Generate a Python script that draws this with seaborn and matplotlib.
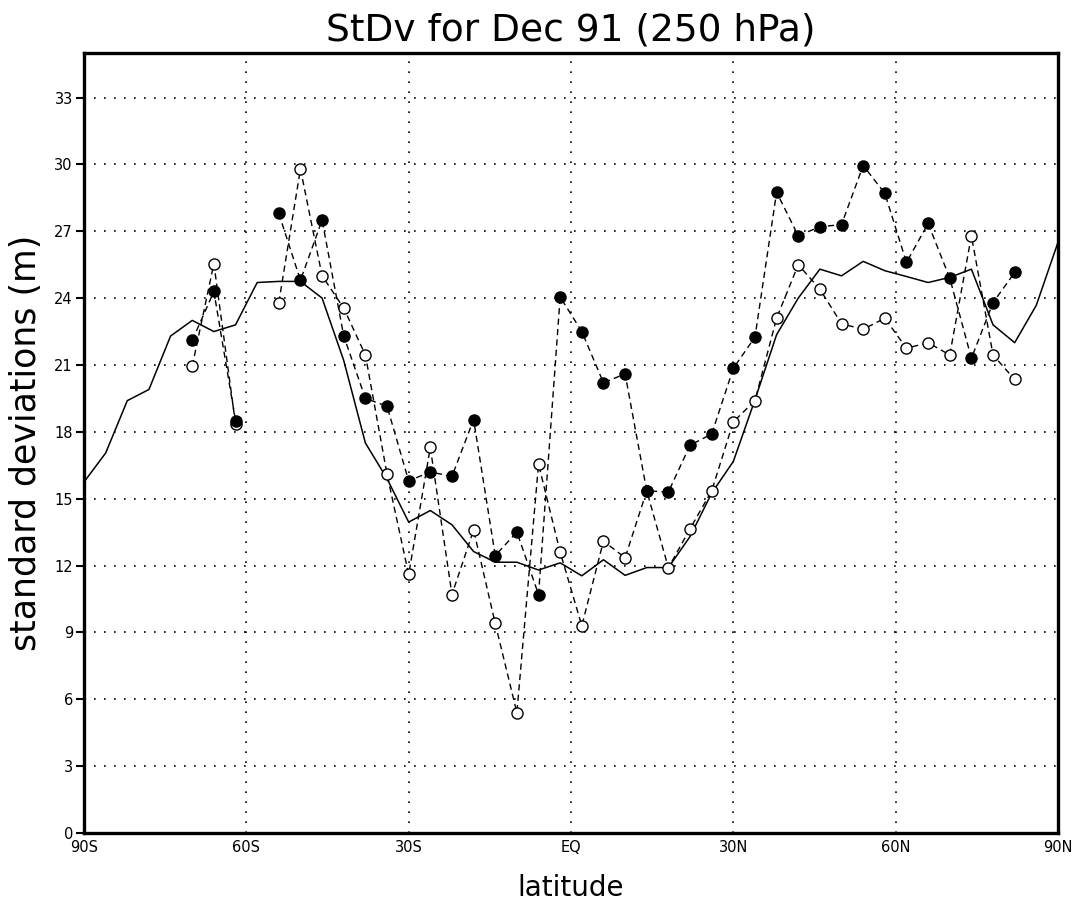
import numpy as np
import pandas as pd
import matplotlib
matplotlib.use("Agg")
import matplotlib.pyplot as plt
import seaborn as sns

# Zonal-mean standard deviation of 250 hPa height, December 1991
model_lat = list(range(-90, 91, 4))
model_sd = [15.75, 17.05, 19.4, 19.9, 22.3, 23.0, 22.5, 22.8, 24.7, 24.75,
            24.75, 24.0, 21.2, 17.5, 15.9, 13.95, 14.47, 13.83, 12.63, 12.15,
            12.15, 11.8, 12.12, 11.54, 12.26, 11.56, 11.91, 11.91, 13.3, 15.25,
            16.67, 19.44, 22.36, 24.0, 25.3, 25.0, 25.65, 25.23, 24.97, 24.7,
            24.93, 25.3, 22.8, 22.0, 23.68, 26.5]

station_lat = list(range(-70, 83, 4))
filled_sd = [22.1, 24.3, 18.5, np.nan, 27.8, 24.8, 27.5, 22.3, 19.5, 19.15,
             15.8, 16.2, 16.0, 18.55, 12.45, 13.5, 10.7, 24.05, 22.5, 20.2,
             20.6, 15.35, 15.3, 17.4, 17.9, 20.85, 22.25, 28.75, 26.8, 27.2,
             27.3, 29.95, 28.7, 25.6, 27.35, 24.9, 21.3, 23.8, 25.15]
open_sd = [20.95, 25.55, 18.35, np.nan, 23.8, 29.8, 25.0, 23.55, 21.45, 16.1,
           11.6, 17.3, 10.7, 13.6, 9.4, 5.4, 16.55, 12.6, 9.3, 13.1,
           12.35, 15.35, 11.9, 13.65, 15.35, 18.45, 19.4, 23.1, 25.5, 24.4,
           22.85, 22.6, 23.1, 21.75, 22.0, 21.45, 26.8, 21.45, 20.35]

x_ticks = [-90, -60, -30, 0, 30, 60, 90]
x_ticklabels = ["90S", "60S", "30S", "EQ", "30N", "60N", "90N"]
y_ticks = list(range(0, 34, 3))


def segmented(lat, values):
    """Long-form frame with a segment id that restarts after every gap."""
    df = pd.DataFrame({"lat": lat, "sd": values})
    df["segment"] = df["sd"].isna().cumsum()
    return df.dropna()


sns.set_theme(style="white")
plt.rcParams["font.family"] = ["DejaVu Sans"]

fig = plt.figure(figsize=(10.80, 9.07), dpi=100)
ax = fig.add_axes([0.0778, 0.0816, 0.9018, 0.8600])

grid_kw = dict(color="black", lw=1.2, linestyle=(0, (1, 5)), zorder=0)
for xv in x_ticks[1:-1]:
    ax.axvline(xv, **grid_kw)
for yv in y_ticks[1:]:
    ax.axhline(yv, **grid_kw)

open_df = segmented(station_lat, open_sd)
filled_df = segmented(station_lat, filled_sd)
model_df = pd.DataFrame({"lat": model_lat, "sd": model_sd})

sns.lineplot(data=open_df, x="lat", y="sd", units="segment", estimator=None,
             color="black", lw=1.0, linestyle=(0, (4.5, 3)), marker="o",
             markersize=8, markerfacecolor="white", markeredgecolor="black",
             markeredgewidth=1.0, sort=False, ax=ax, zorder=3)
sns.lineplot(data=filled_df, x="lat", y="sd", units="segment", estimator=None,
             color="black", lw=1.0, linestyle=(0, (4.5, 3)), marker="o",
             markersize=8, markerfacecolor="black", markeredgecolor="black",
             markeredgewidth=1.0, sort=False, ax=ax, zorder=4)
sns.lineplot(data=model_df, x="lat", y="sd", estimator=None, color="black",
             lw=1.1, sort=False, ax=ax, zorder=2)

ax.set_xlim(-90, 90)
ax.set_ylim(0, 35)
ax.set_xticks(x_ticks)
ax.set_xticklabels(x_ticklabels)
ax.set_yticks(y_ticks)
ax.tick_params(axis="y", direction="out", length=6, width=1.5, pad=2,
               labelsize=10.5, left=True, colors="black")
ax.tick_params(axis="x", direction="in", length=0, pad=5, labelsize=10.5,
               bottom=True, colors="black")
for lab in ax.get_xticklabels() + ax.get_yticklabels():
    lab.set_fontweight("medium")

for side in ax.spines.values():
    side.set_visible(True)
    side.set_color("black")
    side.set_linewidth(2.4)

ax.set_xlabel("latitude", fontsize=20, labelpad=14, color="black")
ax.set_ylabel("standard deviations (m)", fontsize=25, labelpad=8, color="black")
ax.set_title("StDv for Dec 91 (250 hPa)", fontsize=27, pad=9, color="black")

fig.savefig("out.png", dpi=100, facecolor="white")
